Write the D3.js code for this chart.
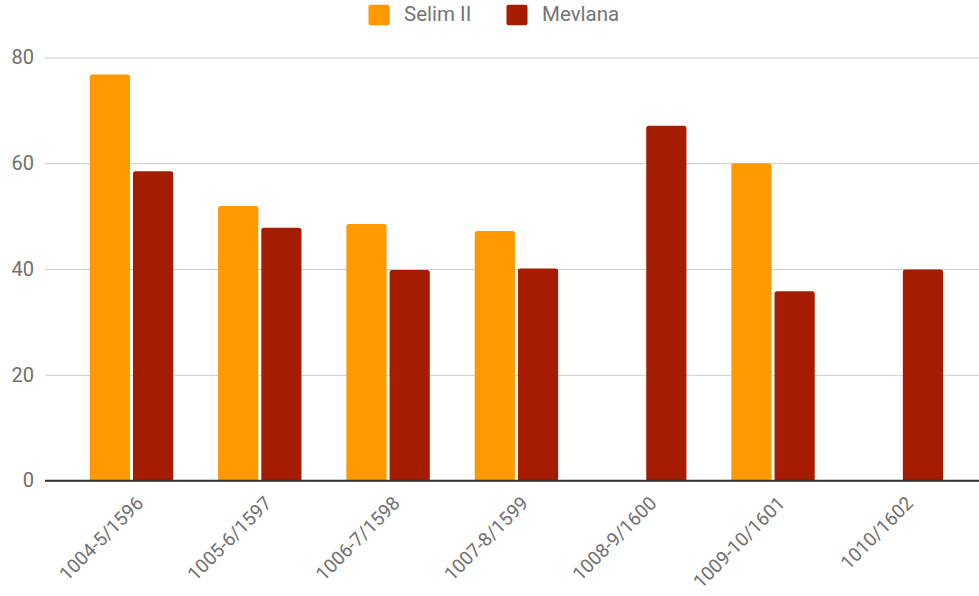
<!DOCTYPE html>
<html><head><meta charset="utf-8">
<script src="https://cdn.jsdelivr.net/npm/d3@7"></script>
<style>body{margin:0;background:#fff}svg{display:block}text{font-family:Roboto,"Noto Sans",sans-serif}</style>
</head><body>
<svg id="c" width="979" height="596"></svg>
<script>
const categories = ["1004-5/1596","1005-6/1597","1006-7/1598","1007-8/1599","1008-9/1600","1009-10/1601","1010/1602"];
const seriesNames = ["Selim II","Mevlana"];
const selim = [76.8, 51.9, 48.5, 47.2, null, 60.0, null];
const mevlana = [58.5, 47.8, 39.8, 40.1, 67.1, 35.8, 39.9];
const yTicks = [0, 20, 40, 60, 80];
const colors = ["#ff9900", "#a61c00"];

const svg = d3.select("#c");
const plotLeft = 45, plotRight = 979;
const y = d3.scaleLinear().domain([0, 80]).range([480.5, 57.5]);
const x = d3.scaleBand().domain(categories).range([67.3, 965.5]).paddingInner(0.35).paddingOuter(0.175);
const xs = d3.scaleBand().domain(seriesNames).range([0, x.bandwidth()]).paddingInner(0.07);

// gridlines
const yAxis = d3.axisLeft(y).tickValues(yTicks).tickSize(0).tickPadding(0);
const ga = svg.append("g").attr("transform", `translate(${plotLeft},0)`).call(yAxis);
ga.select(".domain").remove();
ga.selectAll(".tick text").attr("x", -11).attr("fill", "#6f6f6f").style("font-size", "20px").style("font-family", "Roboto");
ga.selectAll(".tick line").attr("x2", plotRight - plotLeft).attr("stroke", d => d === 0 ? "#333" : "#ccc").attr("stroke-width", d => d === 0 ? 1.5 : 1);

const data = categories.map((c, i) => ({c, vals: [selim[i], mevlana[i]]}));
const bars = svg.append("g");
function topRounded(x0, y0, w, h, r) {
  return `M${x0},${y0+h}V${y0+r}Q${x0},${y0} ${x0+r},${y0}H${x0+w-r}Q${x0+w},${y0} ${x0+w},${y0+r}V${y0+h}Z`;
}
data.forEach(d => {
  d.vals.forEach((v, j) => {
    if (v == null) return;
    const bx = x(d.c) + xs(seriesNames[j]);
    const by = y(v);
    bars.append("path").attr("d", topRounded(bx, by, xs.bandwidth(), y(0) - by, 2.5)).attr("fill", colors[j]);
  });
});
// baseline on top
svg.append("line").attr("x1", plotLeft).attr("x2", plotRight).attr("y1", y(0)).attr("y2", y(0)).attr("stroke", "#333").attr("stroke-width", 1.5);

// x axis labels
const xAxis = d3.axisBottom(x).tickSize(0).tickPadding(0);
const gx = svg.append("g").attr("transform", `translate(0,${y(0)})`).call(xAxis);
gx.select(".domain").remove();
gx.selectAll(".tick text")
  .attr("text-anchor", "end").attr("dy", 0).attr("y", 0)
  .attr("transform", "translate(13,24) rotate(-45)")
  .attr("fill", "#6f6f6f").style("font-size", "19px").style("font-family", "Roboto");

// legend
const legend = svg.append("g");
const lx = [368.5, 506.5];
seriesNames.forEach((n, i) => {
  legend.append("rect").attr("x", lx[i]).attr("y", 4.7).attr("width", 21).attr("height", 20.6).attr("rx", 2).attr("fill", colors[i]);
  legend.append("text").attr("x", lx[i] + 35.5).attr("y", 21).text(n).attr("fill", "#757575").style("font-size", "20.5px");
});
</script>
</body></html>
